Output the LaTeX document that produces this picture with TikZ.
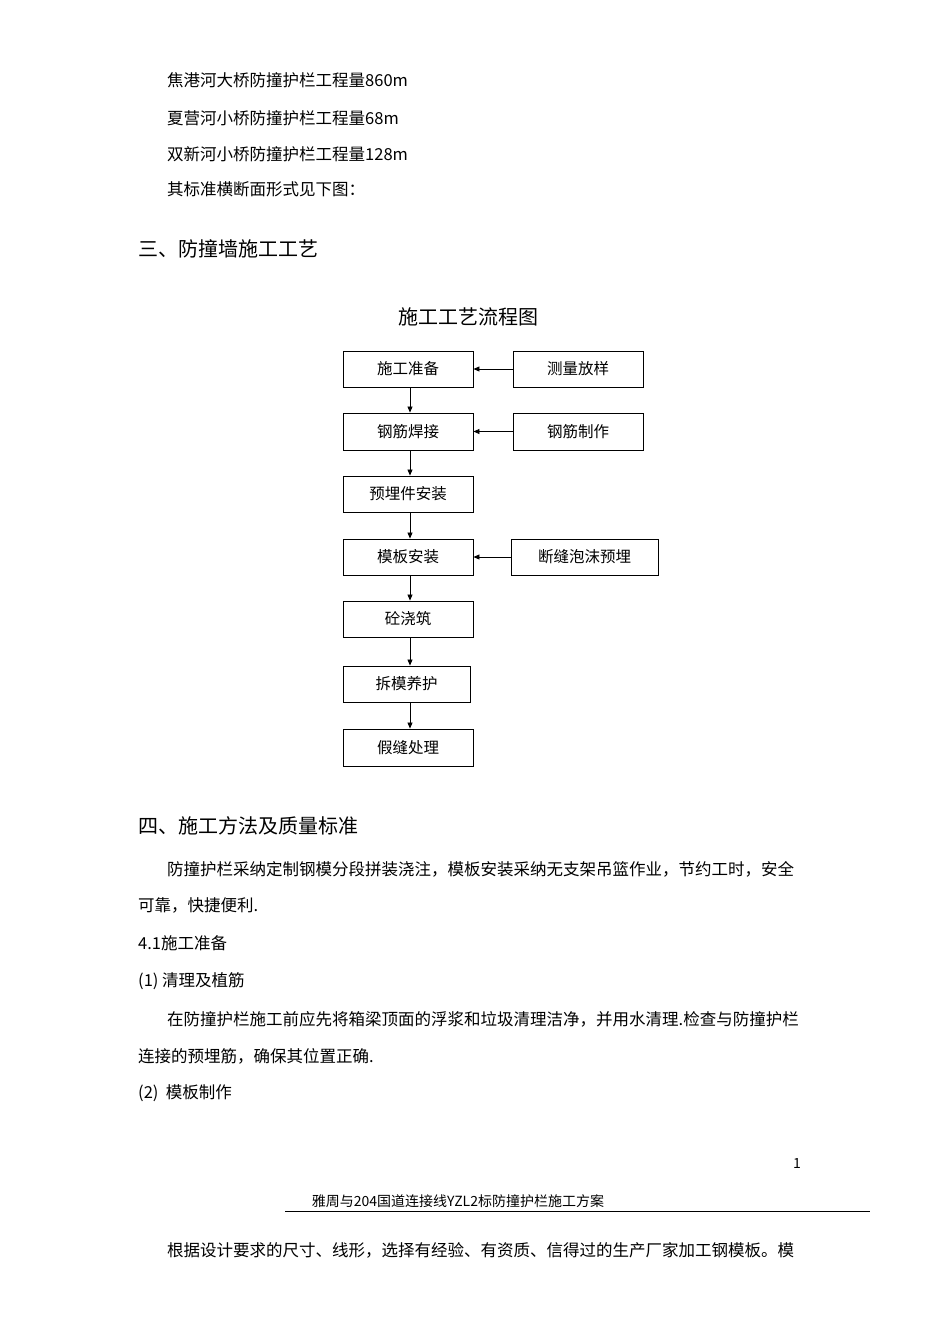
\documentclass[tikz,border=0pt]{standalone}
\usepackage{fontspec}
\setmainfont{Noto Sans CJK SC}
\usetikzlibrary{arrows.meta}
\begin{document}
\begin{tikzpicture}[x=1pt,y=-1pt,
  txt/.style={anchor=west,inner sep=0pt,font=\fontsize{16.5}{18}\selectfont},
  head/.style={anchor=west,inner sep=0pt,font=\fontsize{20}{22}\selectfont},
  box/.style={draw,line width=0.9pt,inner sep=0pt,font=\fontsize{15.5}{17}\selectfont},
  arr/.style={-{Triangle[length=6pt,width=5pt]},line width=0.8pt}]
\useasboundingbox (0,0) rectangle (950,1344);
\node[txt] (l1) at (167,80) {焦港河大桥防撞护栏工程量860m};
\node[txt] (l2) at (167,118) {夏营河小桥防撞护栏工程量68m};
\node[txt] (l3) at (167,154) {双新河小桥防撞护栏工程量128m};
\node[txt] (l4) at (167,189) {其标准横断面形式见下图：};
\node[head] (h3) at (138,249) {三、防撞墙施工工艺};
\node[inner sep=0pt,font=\fontsize{20}{22}\selectfont] (title) at (468,317) {施工工艺流程图};
\node[box,minimum width=130,minimum height=36] (a1) at (408,369) {施工准备};
\node[box,minimum width=130,minimum height=37] (a2) at (408,431.5) {钢筋焊接};
\node[box,minimum width=130,minimum height=36] (a3) at (408,494) {预埋件安装};
\node[box,minimum width=130,minimum height=36] (a4) at (408,557) {模板安装};
\node[box,minimum width=130,minimum height=36] (a5) at (408,619) {砼浇筑};
\node[box,minimum width=127,minimum height=36] (a6) at (406.5,684) {拆模养护};
\node[box,minimum width=130,minimum height=37] (a7) at (408,747.5) {假缝处理};
\node[box,minimum width=130,minimum height=36] (b1) at (578,369) {测量放样};
\node[box,minimum width=130,minimum height=37] (b2) at (578,431.5) {钢筋制作};
\node[box,minimum width=147,minimum height=36] (b4) at (584.5,557) {断缝泡沫预埋};
\foreach \u/\v in {a1/a2,a2/a3,a3/a4,a4/a5,a5/a6,a6/a7}
  \draw[arr] (\u.south-|410,0) -- (\v.north-|410,0);
\draw[arr] (b1) -- (a1);
\draw[arr] (b2) -- (a2);
\draw[arr] (b4) -- (a4);
\node[head] (h4) at (138,826) {四、施工方法及质量标准};
\node[txt] (p1) at (167,869) {防撞护栏采纳定制钢模分段拼装浇注，模板安装采纳无支架吊篮作业，节约工时，安全};
\node[txt] (p2) at (138,905) {可靠，快捷便利.};
\node[txt] (p3) at (138,943) {4.1施工准备};
\node[txt] (p4) at (138,981) {(1)\ 清理及植筋};
\node[txt] (p5) at (167,1019) {在防撞护栏施工前应先将箱梁顶面的浮浆和垃圾清理洁净，并用水清理.检查与防撞护栏};
\node[txt] (p6) at (138,1056) {连接的预埋筋，确保其位置正确.};
\node[txt] (p7) at (138,1093) {(2)\ \ 模板制作};
\node[inner sep=0pt,font=\fontsize{14}{16}\selectfont] (pg) at (797,1163) {1};
\node[inner sep=0pt,font=\fontsize{14}{16}\selectfont] (ft) at (458,1201) {雅周与204国道连接线YZL2标防撞护栏施工方案};
\draw[line width=0.7pt] (285,1211) -- (870,1211);
\node[txt] (p8) at (167,1250) {根据设计要求的尺寸、线形，选择有经验、有资质、信得过的生产厂家加工钢模板。模};
\end{tikzpicture}
\end{document}
